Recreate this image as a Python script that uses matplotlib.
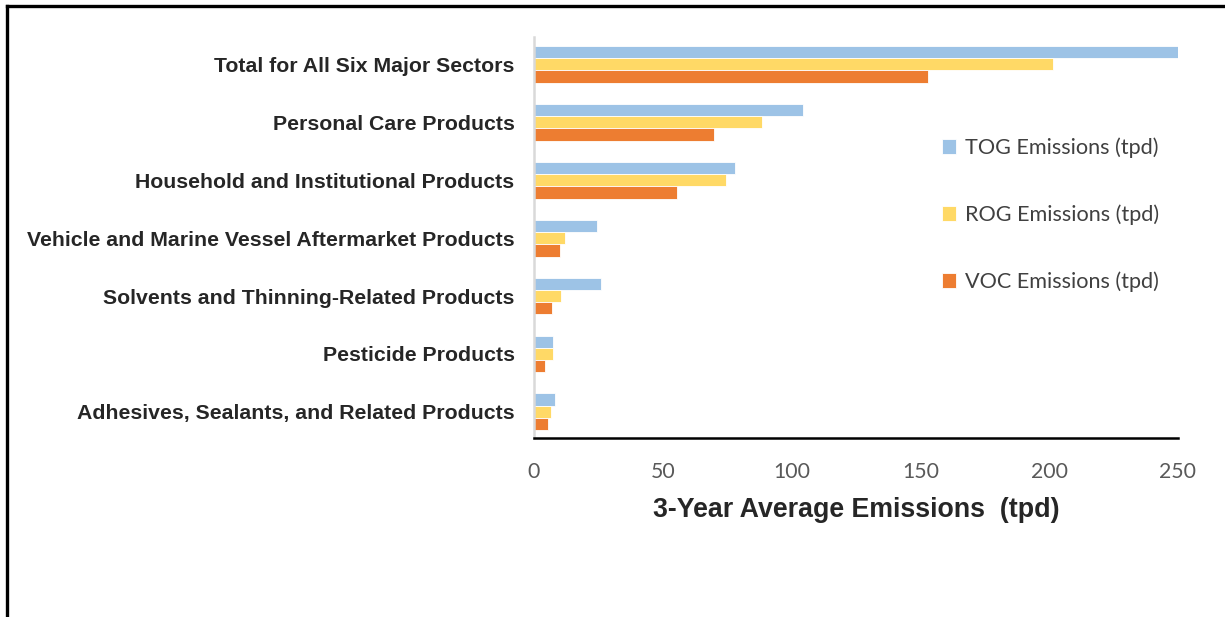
import numpy as np
import matplotlib
matplotlib.use("Agg")
import matplotlib.pyplot as plt
from matplotlib.lines import Line2D

categories = [
    "Adhesives, Sealants, and Related Products",
    "Pesticide Products",
    "Solvents and Thinning-Related Products",
    "Vehicle and Marine Vessel Aftermarket Products",
    "Household and Institutional Products",
    "Personal Care Products",
    "Total for All Six Major Sectors",
]
tog = [8.0, 7.5, 25.9, 24.5, 78.2, 104.3, 250.0]
rog = [6.5, 7.5, 10.5, 11.9, 74.7, 88.6, 201.5]
voc = [5.6, 4.1, 7.0, 10.0, 55.6, 69.7, 153.0]

series_names = ["TOG Emissions (tpd)", "ROG Emissions (tpd)", "VOC Emissions (tpd)"]
colors = ["#9DC3E6", "#FFD966", "#ED7D31"]
x_ticks = [0, 50, 100, 150, 200, 250]
x_label = "3-Year Average Emissions  (tpd)"

W, H = 1225, 617
fig = plt.figure(figsize=(W / 100, H / 100), dpi=100)
ax = fig.add_axes([534 / W, 1 - 438 / H, 644 / W, 401 / H])

y = np.arange(len(categories))
bh = 0.212
for k, (vals, name, c) in enumerate(zip([tog, rog, voc], series_names, colors)):
    ax.barh(y + (1 - k) * bh, vals, height=bh, color=c, label=name,
            edgecolor="white", linewidth=0.6)

ax.set_xlim(0, 250)
ax.set_ylim(-0.45, 6.47)
ax.set_xticks(x_ticks)
ax.set_xticklabels([str(v) for v in x_ticks], family="Lato", fontsize=15.3, color="#595959")
ax.set_yticks(y)
ax.set_yticklabels(categories, family="Liberation Sans", fontweight="bold",
                   fontsize=15.3, color="#262626")
ax.tick_params(axis="x", length=0, pad=17)
ax.tick_params(axis="y", length=0, pad=14)

for s in ["top", "right"]:
    ax.spines[s].set_visible(False)
ax.spines["left"].set_color("#D9D9D9")
ax.spines["left"].set_linewidth(1.8)
ax.spines["bottom"].set_color("black")
ax.spines["bottom"].set_linewidth(1.8)

ax.set_xlabel(x_label, family="Liberation Sans", fontweight="bold", fontsize=19.3,
              color="#262626", labelpad=11)

leg = ax.legend(loc="upper left", bbox_to_anchor=(922 / W, 1 - 118 / H),
                bbox_transform=fig.transFigure, frameon=False,
                prop={"family": "Lato", "size": 15.6},
                handlelength=0.65, handleheight=0.65, handletextpad=0.45,
                labelspacing=2.14)
for t in leg.get_texts():
    t.set_color("#404040")

# frame lines along top and left edges
fig.add_artist(Line2D([7 / W, 1], [1 - 6 / H, 1 - 6 / H], transform=fig.transFigure,
                      color="black", linewidth=2.4))
fig.add_artist(Line2D([7 / W, 7 / W], [0, 1 - 6 / H], transform=fig.transFigure,
                      color="black", linewidth=2.4))

fig.savefig("out.png", dpi=100)
